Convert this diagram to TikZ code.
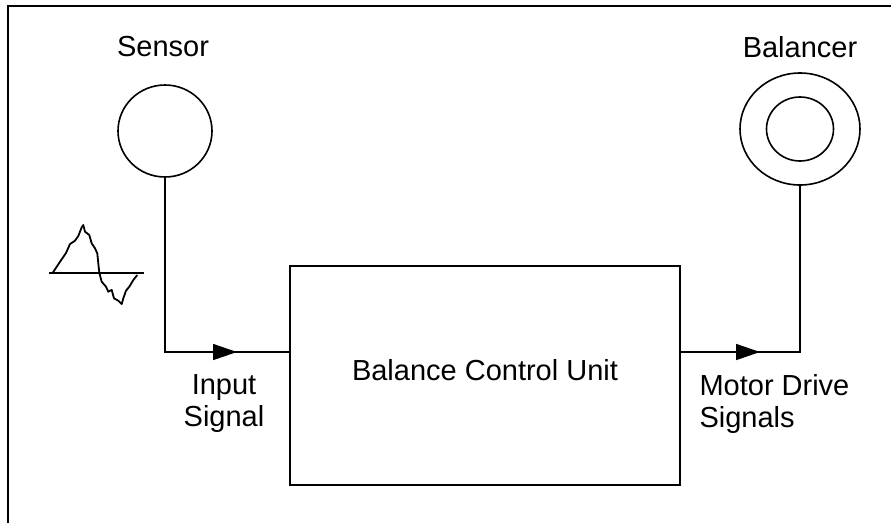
\documentclass[tikz,border=0pt]{standalone}
\usepackage{fontspec}
\setmainfont{Liberation Sans}
\usetikzlibrary{shapes.geometric,arrows.meta,decorations.markings}
\begin{document}
\begin{tikzpicture}[x=1pt,y=-1pt,
  every node/.style={font=\fontsize{29}{32}\selectfont},
  ln/.style={line width=1.6pt},
  disc/.style={ellipse,draw,line width=1.6pt,inner sep=0pt,outer sep=0pt},
  unit/.style={rectangle,draw,line width=1.6pt,inner sep=0pt,outer sep=0pt,minimum width=390pt,minimum height=219pt},
  markat/.style={postaction={decorate},decoration={markings,mark=at position #1 with {\arrow{Triangle[length=24pt,width=16pt]}}}}]
\useasboundingbox (0,0) rectangle (891,523);
\fill[white] (0,0) rectangle (891,523);
% frame
\draw[ln] (891,6) -- (8,6) -- (8,523);
% nodes
\node[disc,minimum width=94pt,minimum height=92pt] (sensor) at (165,131) {};
\node (sensorlbl) at (163,47) {Sensor};
\node[disc,minimum width=120pt,minimum height=112pt] (balouter) at (800,129) {};
\node[disc,minimum width=67pt,minimum height=64pt] (balinner) at (800,129) {};
\node (ballbl) at (800,47) {Balancer};
\node[unit] (bcu) at (485,375.5) {};
\node (bcutext) at (485,370) {Balance Control Unit};
\node[align=center] (inlbl) at (224,404) {Input\\Signal};
\node[align=left,anchor=west] (outlbl) at (696,404) {Motor Drive\\Signals};
% connectors
\draw[ln,markat=247pt] (sensor.south) |- ([yshift=23.5pt]bcu.west);
\draw[ln,markat=80pt] ([yshift=23.5pt]bcu.east) -| (balouter.south);
% waveform
\draw[line width=2.6pt] (49,273) -- (144,273);
\draw[line width=1.8pt,line join=round] plot coordinates {
(52.7,272.7) (56.7,266.7) (61.7,259.3) (66,253) (70,244) (75,240.7) (78.3,236)
(81.7,227.3) (83.3,225) (85,231.7) (89.3,235) (91.7,243.3) (95,248.3) (97.3,253.3)
(98.3,263.3) (99.3,272.7) (101.7,281.7) (106,286.7) (108.3,291.7) (111.7,290)
(114,298.3) (118.3,300.7) (121.7,304) (123.3,298.3) (126,290.7) (129.3,286.7)
(133.3,280) (137.3,275)};
\end{tikzpicture}
\end{document}
